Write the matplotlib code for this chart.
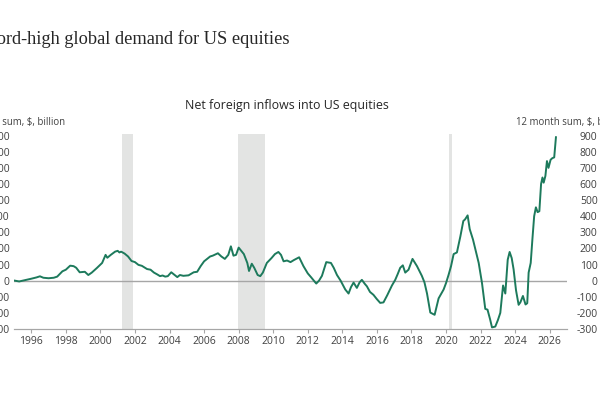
import matplotlib
matplotlib.use("Agg")
import matplotlib.pyplot as plt
import numpy as np

# Data (decimal year, 12-month sum in $ billion)
years = [1995.05, 1995.3, 1995.6, 1996.0, 1996.3, 1996.5, 1996.7, 1997.0, 1997.3, 1997.5,
         1997.8, 1998.0, 1998.25, 1998.45, 1998.6, 1998.8, 1999.1, 1999.3, 1999.5, 1999.8,
         2000.1, 2000.3, 2000.4, 2000.6, 2000.85, 2001.0, 2001.1, 2001.2, 2001.4, 2001.6,
         2001.8, 2002.0, 2002.2, 2002.4, 2002.7, 2002.9, 2003.1, 2003.3, 2003.45, 2003.6,
         2003.75, 2003.9, 2004.1, 2004.3, 2004.45, 2004.6, 2004.8, 2005.1, 2005.4, 2005.6,
         2005.8, 2006.0, 2006.35, 2006.5, 2006.8, 2007.0, 2007.2, 2007.4, 2007.55, 2007.7,
         2007.85, 2008.0, 2008.15, 2008.3, 2008.5, 2008.6, 2008.76, 2008.9, 2009.1, 2009.25,
         2009.4, 2009.63, 2009.9, 2010.1, 2010.3, 2010.45, 2010.6, 2010.8, 2011.0, 2011.2,
         2011.5, 2011.75, 2012.0, 2012.2, 2012.49, 2012.65, 2012.82, 2013.07, 2013.34, 2013.5,
         2013.69, 2013.9, 2014.17, 2014.36, 2014.5, 2014.65, 2014.84, 2015.0, 2015.13, 2015.3,
         2015.42, 2015.6, 2015.8, 2016.0, 2016.19, 2016.38, 2016.6, 2016.87, 2017.06, 2017.2,
         2017.35, 2017.5, 2017.64, 2017.83, 2018.06, 2018.32, 2018.6, 2018.75, 2018.9, 2019.09,
         2019.34, 2019.57, 2019.86, 2020.0, 2020.15, 2020.29, 2020.44, 2020.63, 2020.83, 2021.0,
         2021.1, 2021.25, 2021.37, 2021.56, 2021.75, 2021.89, 2022.08, 2022.27, 2022.4, 2022.55,
         2022.66, 2022.85, 2023.0, 2023.14, 2023.3, 2023.43, 2023.57, 2023.68, 2023.8, 2023.91,
         2024.05, 2024.2, 2024.3, 2024.45, 2024.6, 2024.7, 2024.78, 2024.9, 2025.0, 2025.1,
         2025.2, 2025.3, 2025.4, 2025.5, 2025.58, 2025.65, 2025.75, 2025.84, 2025.93, 2026.05,
         2026.15, 2026.26, 2026.36]
inflows = [0, -5, 2, 12, 20, 27, 18, 15, 18, 25,
           58, 68, 93, 90, 80, 52, 55, 35, 50, 79,
           110, 160, 142, 160, 180, 185, 175, 180, 168, 150,
           122, 115, 98, 92, 72, 68, 50, 38, 28, 32,
           25, 28, 52, 35, 22, 35, 30, 33, 52, 55,
           90, 120, 150, 155, 170, 150, 135, 160, 213, 155,
           160, 205, 185, 165, 110, 60, 105, 80, 35, 28,
           50, 110, 140, 165, 178, 160, 120, 125, 115, 128,
           145, 90, 45, 20, -18, 0, 30, 115, 110, 80,
           35, 0, -55, -80, -40, -12, -45, -10, 5, -20,
           -35, -70, -88, -115, -138, -135, -90, -30, 5, 40,
           80, 95, 50, 68, 135, 90, 30, -10, -80, -198,
           -212, -110, -55, -15, 37, 90, 165, 175, 275, 370,
           380, 405, 320, 255, 170, 110, -14, -175, -180, -240,
           -290, -285, -245, -200, -30, -80, 130, 178, 140, 70,
           -60, -150, -135, -95, -148, -140, 50, 110, 260, 400,
           455, 425, 431, 600, 640, 608, 650, 742, 700, 750,
           760, 765, 890]

recessions = [(2001.25, 2001.9), (2007.95, 2009.5), (2020.17, 2020.35)]
yticks = list(range(-300, 1000, 100))
xticks = list(range(1996, 2027, 2))

LINE = "#1d7a5c"
TXT = "#404040"

fig = plt.figure(figsize=(6, 4), dpi=100)
ax = fig.add_axes([14/600, 1-329/400, (567-14)/600, (329-134)/400])

for a, b in recessions:
    ax.axvspan(a, b, color="#e3e4e3", lw=0, zorder=0)
ax.axhline(0, color="#a6a6a6", lw=1.0, zorder=1)
ax.plot(years, inflows, color=LINE, lw=1.4, zorder=3)

ax.set_xlim(1995, 2027)
ax.set_ylim(-300, 910)
ax.set_xticks(xticks)
ax.set_xticklabels([str(t) for t in xticks], fontsize=7.5, color=TXT, family="Open Sans")
ax.set_yticks(yticks)
ax.set_yticklabels([str(t) for t in yticks], fontsize=7.5, color=TXT, family="Open Sans")
ax.tick_params(axis="x", length=3, color="#a6a6a6", pad=2)
ax.tick_params(axis="y", length=0, pad=3)

ax2 = ax.twinx()
ax2.set_ylim(ax.get_ylim())
ax2.set_yticks(yticks)
ax2.set_yticklabels([str(t) for t in yticks], fontsize=7.5, color=TXT, family="Open Sans", ha="right")
ax2.tick_params(axis="y", length=0, pad=22)

for a in (ax, ax2):
    for s in ("top", "left", "right"):
        a.spines[s].set_visible(False)
    a.spines["bottom"].set_color("#a6a6a6")

fig.text(289/600, 1-44/400, "Record-high global demand for US equities", ha="right",
         va="baseline", fontsize=13.2, family="Liberation Serif", color="#262626")
fig.text(287/600, 1-105/400, "Net foreign inflows into US equities", ha="center",
         va="center", fontsize=8.9, family="Open Sans", color="#262626")
fig.text(65/600, 1-122/400, "12 month sum, $, billion", ha="right", va="center",
         fontsize=6.9, family="Open Sans", color=TXT)
fig.text(516/600, 1-122/400, "12 month sum, $, billion", ha="left", va="center",
         fontsize=6.9, family="Open Sans", color=TXT)

fig.savefig("out.png", dpi=100)
